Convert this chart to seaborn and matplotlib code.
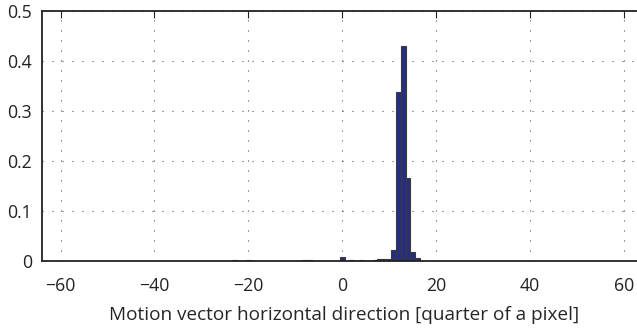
import matplotlib
matplotlib.use('Agg')
import matplotlib.pyplot as plt
import seaborn as sns

# histogram of horizontal motion vector components (bin centres / relative frequency)
mv_bins = [-23, -20, -8, -7, 0, 2, 4, 7, 8, 9, 10, 11, 12, 13, 14, 15, 16]
freq = [0.002, 0.002, 0.002, 0.002, 0.007, 0.002, 0.002, 0.002, 0.003, 0.003,
        0.003, 0.022, 0.338, 0.430, 0.166, 0.017, 0.005]

sns.set_style('white')
plt.rcParams['font.family'] = ['Open Sans', 'DejaVu Sans']
plt.rcParams['axes.unicode_minus'] = True

fig = plt.figure(figsize=(6.37, 3.29), dpi=100)
ax = fig.add_axes([0.0655, 0.2075, 0.95, 0.759])

sns.histplot(x=mv_bins, weights=freq, discrete=True, stat='count',
             color='#262e80', edgecolor='#3a3a3a', linewidth=0.8, alpha=1, ax=ax)

ax.set_xlim(-64, 64.9)
ax.set_ylim(0, 0.5)
ax.set_xticks(range(-60, 61, 20))
ax.set_yticks([0, 0.1, 0.2, 0.3, 0.4, 0.5])
ax.set_yticklabels(['0', '0.1', '0.2', '0.3', '0.4', '0.5'])
ax.set_ylabel('')
ax.set_xlabel('Motion vector horizontal direction [quarter of a pixel]', fontsize=13.7, labelpad=8)

ax.grid(True, color='#555555', linestyle=(0, (1, 8)), linewidth=0.8)
ax.set_axisbelow(True)
for s in ax.spines.values():
    s.set_visible(True)
    s.set_color('#222222')
    s.set_linewidth(1.3)
ax.tick_params(direction='in', length=5, width=0.8, top=True, right=True,
               labelsize=12.7, colors='#222222')
ax.tick_params(axis='x', pad=11.5)
ax.tick_params(axis='y', pad=7)

fig.savefig('out.png', dpi=100)
